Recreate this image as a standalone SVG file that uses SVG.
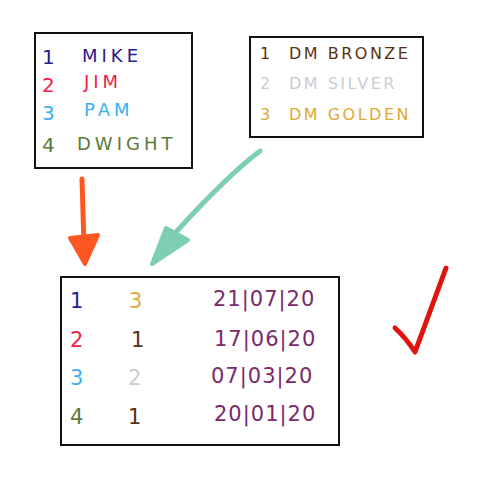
<svg xmlns="http://www.w3.org/2000/svg" width="500" height="480" viewBox="0 0 500 480">
<style>
.box{fill:#fff;stroke:#111;stroke-width:2}
text{font-family:"DejaVu Sans","Liberation Sans",sans-serif;font-size:18px}
.n{font-size:20px}
.w{letter-spacing:4px}
.v{letter-spacing:2.5px;font-size:16px}
.d{letter-spacing:1px;font-size:21px}
</style>
<rect width="500" height="480" fill="#fff"/>
<g id="connectors" stroke-linecap="round" stroke-linejoin="round">
<line x1="82" y1="179" x2="84" y2="245" stroke="#FF5722" stroke-width="5"/>
<polygon points="70,238 98,235 85,264" fill="#FF5722" stroke="#FF5722" stroke-width="4"/>
<path d="M260 151 Q228 175 176 232" fill="none" stroke="#7ECDB5" stroke-width="5"/>
<polygon points="166,228 188,240 152,264" fill="#7ECDB5" stroke="#7ECDB5" stroke-width="4"/>
</g>
<g id="names">
<rect class="box" x="35" y="33" width="157" height="135"/>
<text class="n" x="42" y="64" fill="#2A1A8C">1</text><text class="w" x="82" y="62" fill="#2A1A8C">MIKE</text>
<text class="n" x="42" y="92" fill="#F0204A">2</text><text class="w" x="84" y="88" fill="#F0204A">JIM</text>
<text class="n" x="42" y="120" fill="#3AB0F0">3</text><text class="w" x="84" y="116" fill="#3AB0F0">PAM</text>
<text class="n" x="42" y="152" fill="#5A7A3A">4</text><text class="w" x="77" y="150" fill="#5A7A3A">DWIGHT</text>
</g>
<g id="levels">
<rect class="box" x="250" y="37" width="173" height="100"/>
<text class="v" x="260" y="59" fill="#5A3210">1</text><text class="v" x="289" y="59" fill="#5A3210">DM BRONZE</text>
<text class="v" x="260" y="89" fill="#C8CCD4">2</text><text class="v" x="289" y="89" fill="#C8CCD4">DM SILVER</text>
<text class="v" x="260" y="120" fill="#E0A830">3</text><text class="v" x="289" y="120" fill="#E0A830">DM GOLDEN</text>
</g>
<g id="table">
<rect class="box" x="61" y="277" width="278" height="168"/>
<text class="d" x="70" y="308" fill="#2A1A8C">1</text><text class="d" x="129" y="308" fill="#E0A830">3</text><text class="d" x="213" y="306" fill="#7A2A6A">21|07|20</text>
<text class="d" x="70" y="347" fill="#F0204A">2</text><text class="d" x="131" y="347" fill="#5A3210">1</text><text class="d" x="214" y="346" fill="#7A2A6A">17|06|20</text>
<text class="d" x="70" y="385" fill="#3AB0F0">3</text><text class="d" x="128" y="385" fill="#C8CCD4">2</text><text class="d" x="211" y="383" fill="#7A2A6A">07|03|20</text>
<text class="d" x="70" y="424" fill="#5A7A3A">4</text><text class="d" x="128" y="424" fill="#5A3210">1</text><text class="d" x="214" y="421" fill="#7A2A6A">20|01|20</text>
</g>
<path id="check" d="M395 328 Q406 338 415 352 L446 268" fill="none" stroke="#E0140F" stroke-width="5" stroke-linecap="round" stroke-linejoin="round"/>
</svg>
